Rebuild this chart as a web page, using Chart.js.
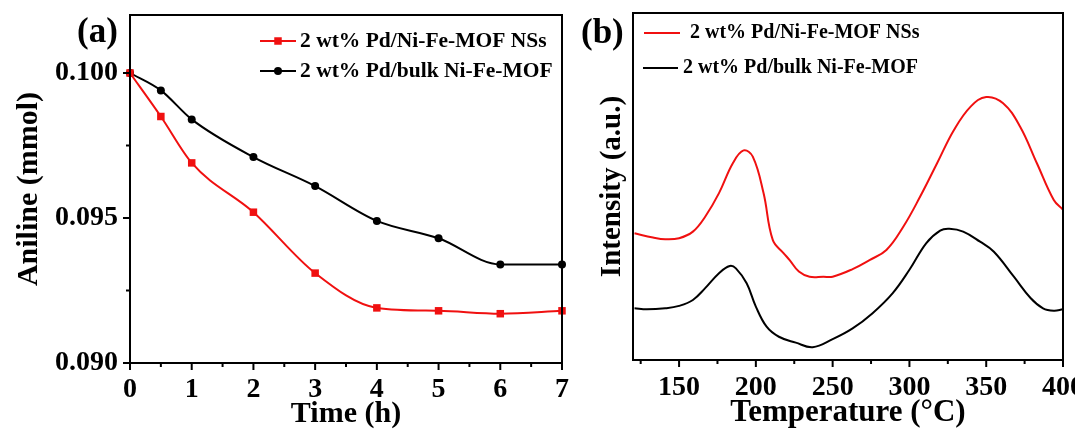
<!DOCTYPE html>
<html>
<head>
<meta charset="utf-8">
<script src="https://cdn.jsdelivr.net/npm/chart.js@4.4.1/dist/chart.umd.min.js"></script>
<style>
  body { margin: 0; background: #fff; width: 1075px; height: 436px; position: relative; overflow: hidden; }
  canvas { position: absolute; top: 0; }
  #chartA { left: 0; }
  #chartB { left: 570px; }
  .tag { position: absolute; font: bold 35px "Liberation Serif", serif; line-height: 1; color: #000; }
</style>
</head>
<body>
<canvas id="chartA" width="570" height="436"></canvas>
<canvas id="chartB" width="505" height="436"></canvas>
<div class="tag" style="left:77px; top:13px;">(a)</div>
<div class="tag" style="left:581px; top:14px;">(b)</div>
<script>
// panel (a): aniline left vs reaction time
const timeH = [0, 0.5, 1, 2, 3, 4, 5, 6, 7];
const anilineNS = [0.1000, 0.0985, 0.0969, 0.0952, 0.0931, 0.0919, 0.0918, 0.0917, 0.0918];
const anilineBulk = [0.1000, 0.0994, 0.0984, 0.0971, 0.0961, 0.0949, 0.0943, 0.0934, 0.0934];
const timeTicks = [0, 1, 2, 3, 4, 5, 6, 7];
const timeMinor = [0.5, 1.5, 2.5, 3.5, 4.5, 5.5, 6.5];
const anilineTicks = [0.090, 0.095, 0.100];
const anilineMinor = [0.0925, 0.0975];

// panel (b): intensity vs temperature (arbitrary units, 0-100)
const tempNS = [121, 133, 141, 150, 159, 167, 176, 185, 192, 198, 205, 211, 218, 222, 228, 235, 244, 250, 263, 274, 285, 296, 307, 318, 329, 340, 350, 361, 372, 383, 394, 400];
const intensityNS = [36.5, 35.3, 34.8, 35.1, 37.0, 41.3, 48.1, 56.7, 60.4, 58.6, 48.1, 34.6, 30.8, 28.8, 25.5, 24.0, 24.0, 24.0, 26.2, 28.8, 31.7, 38.4, 47.1, 56.7, 66.3, 73.1, 75.8, 74.0, 67.3, 56.7, 46.1, 43.3];
const tempBulk = [121, 129, 141, 150, 159, 167, 176, 183, 187, 194, 200, 207, 215, 226, 237, 250, 263, 276, 289, 300, 311, 320, 326, 335, 346, 355, 368, 379, 387, 394, 400];
const intensityBulk = [14.9, 14.6, 14.9, 15.6, 17.3, 20.7, 25.0, 27.1, 26.4, 22.1, 15.4, 9.6, 6.7, 5.0, 3.7, 6.0, 9.1, 13.5, 19.2, 26.0, 33.7, 37.3, 37.8, 37.0, 34.1, 31.2, 24.0, 17.8, 14.9, 14.2, 14.6];
const tempTicks = [150, 200, 250, 300, 350, 400];
const tempMinor = [125, 175, 225, 275, 325, 375];

const labelNS = "2 wt% Pd/Ni-Fe-MOF NSs";
const labelBulk = "2 wt% Pd/bulk Ni-Fe-MOF";
const RED = "#f01010";
const FAMILY = '"Liberation Serif", "Times New Roman", serif';

const tickFont = { family: FAMILY, size: 28, weight: "bold" };
const titleFont = { family: FAMILY, size: 30, weight: "bold" };

const toPoints = (xs, ys) => xs.map((x, i) => ({ x: x, y: ys[i] }));

// closed box around the plot + outward tick marks (major and minor)
const framePlugin = {
  id: "frame",
  afterDraw(chart, args, opts) {
    const { ctx, chartArea: a, scales } = chart;
    ctx.save();
    ctx.strokeStyle = "#000";
    ctx.lineWidth = 2;
    ctx.strokeRect(a.left, a.top, a.right - a.left, a.bottom - a.top);
    const mark = (scale, values, len) => {
      values.forEach((v) => {
        const p = scale.getPixelForValue(v);
        ctx.beginPath();
        if (scale.isHorizontal()) {
          ctx.moveTo(p, a.bottom);
          ctx.lineTo(p, a.bottom + len);
        } else {
          ctx.moveTo(a.left, p);
          ctx.lineTo(a.left - len, p);
        }
        ctx.stroke();
      });
    };
    ["x", "y"].forEach((id) => {
      const t = opts[id];
      if (!t) return;
      mark(scales[id], t.major, 7);
      mark(scales[id], t.minor, 4);
    });
    ctx.restore();
  },
};

// legend with a line sample (and marker) like the original figure
const legendPlugin = {
  id: "lineLegend",
  afterDraw(chart, args, opts) {
    const ctx = chart.ctx;
    ctx.save();
    ctx.font = "bold " + opts.size + "px " + FAMILY;
    ctx.textBaseline = "middle";
    chart.data.datasets.forEach((ds, i) => {
      const y = opts.rows[i];
      const x0 = opts.x[i];
      const x1 = x0 + opts.len[i];
      ctx.strokeStyle = ds.borderColor;
      ctx.lineWidth = 2;
      ctx.beginPath();
      ctx.moveTo(x0, y);
      ctx.lineTo(x1, y);
      ctx.stroke();
      if (ds.pointRadius > 0) {
        ctx.fillStyle = ds.pointBackgroundColor;
        Chart.helpers.drawPoint(ctx, { pointStyle: ds.pointStyle, radius: ds.pointRadius, borderWidth: 0, rotation: 0 }, (x0 + x1) / 2, y);
      }
      ctx.fillStyle = "#000";
      ctx.fillText(ds.label, opts.textX[i], y);
    });
    ctx.restore();
  },
};

function fixedTicks(values) {
  return (scale) => {
    scale.ticks = values.map((v) => ({ value: v }));
  };
}

// chart (a)
new Chart(document.getElementById("chartA"), {
  type: "line",
  data: {
    datasets: [
      {
        label: labelNS,
        data: toPoints(timeH, anilineNS),
        borderColor: RED,
        backgroundColor: RED,
        pointBackgroundColor: RED,
        pointBorderWidth: 0,
        pointStyle: "rect",
        pointRadius: 5.3,
        borderWidth: 2,
        cubicInterpolationMode: "monotone",
        clip: 8,
      },
      {
        label: labelBulk,
        data: toPoints(timeH, anilineBulk),
        borderColor: "#000",
        backgroundColor: "#000",
        pointBackgroundColor: "#000",
        pointBorderWidth: 0,
        pointStyle: "circle",
        pointRadius: 4,
        borderWidth: 2,
        cubicInterpolationMode: "monotone",
        clip: 8,
      },
    ],
  },
  options: {
    responsive: false,
    animation: false,
    layout: { padding: { top: 15, right: 8, left: 0, bottom: 0 } },
    plugins: {
      legend: { display: false },
      tooltip: { enabled: false },
      frame: { x: { major: timeTicks, minor: timeMinor }, y: { major: anilineTicks, minor: anilineMinor } },
      lineLegend: { x: [260, 260], len: [36, 36], rows: [41, 71], textX: [300, 300], size: 21.5 },
    },
    scales: {
      x: {
        type: "linear",
        min: 0,
        max: 7,
        afterBuildTicks: fixedTicks(timeTicks),
        afterFit: (s) => { s.height = 73; s.paddingLeft = 0; s.paddingRight = 0; },
        grid: { display: false, drawTicks: false },
        border: { display: false },
        ticks: { font: tickFont, color: "#000", padding: 10, maxRotation: 0 },
        title: { display: true, text: "Time (h)", font: titleFont, color: "#000", padding: { top: 0, bottom: 4 } },
      },
      y: {
        type: "linear",
        min: 0.090,
        max: 0.102,
        afterBuildTicks: fixedTicks(anilineTicks),
        afterFit: (s) => { s.width = 130; s.paddingTop = 0; s.paddingBottom = 0; },
        grid: { display: false, drawTicks: false },
        border: { display: false },
        ticks: { font: tickFont, color: "#000", padding: 12, callback: (v) => v.toFixed(3) },
        title: { display: true, text: "Aniline (mmol)", font: { family: FAMILY, size: 30, weight: "bold" }, color: "#000", padding: { top: 11, bottom: 0 } },
      },
    },
  },
  plugins: [framePlugin, legendPlugin],
});

// chart (b)
new Chart(document.getElementById("chartB"), {
  type: "line",
  data: {
    datasets: [
      {
        label: labelNS,
        data: toPoints(tempNS, intensityNS),
        borderColor: RED,
        borderWidth: 2,
        pointRadius: 0,
        tension: 0.4,
      },
      {
        label: labelBulk,
        data: toPoints(tempBulk, intensityBulk),
        borderColor: "#000",
        borderWidth: 2,
        pointRadius: 0,
        tension: 0.4,
      },
    ],
  },
  options: {
    responsive: false,
    animation: false,
    layout: { padding: { top: 13, right: 12, left: 0, bottom: 0 } },
    plugins: {
      legend: { display: false },
      tooltip: { enabled: false },
      frame: { x: { major: tempTicks, minor: tempMinor } },
      lineLegend: { x: [74, 73], len: [36, 35], rows: [33, 68], textX: [120, 113], size: 20 },
    },
    scales: {
      x: {
        type: "linear",
        min: 120,
        max: 400,
        afterBuildTicks: fixedTicks(tempTicks),
        afterFit: (s) => { s.height = 76; s.paddingLeft = 0; s.paddingRight = 0; },
        grid: { display: false, drawTicks: false },
        border: { display: false },
        ticks: { font: tickFont, color: "#000", padding: 11, maxRotation: 0 },
        title: { display: true, text: "Temperature (°C)", font: { family: FAMILY, size: 31, weight: "bold" }, color: "#000", padding: { top: 0, bottom: 4 } },
      },
      y: {
        type: "linear",
        min: 0,
        max: 100,
        afterFit: (s) => { s.width = 63; s.paddingTop = 0; s.paddingBottom = 0; },
        grid: { display: false, drawTicks: false },
        border: { display: false },
        ticks: { display: false },
        title: { display: true, text: "Intensity (a.u.)", font: { family: FAMILY, size: 29, weight: "bold" }, color: "#000", padding: { top: 25, bottom: 0 } },
      },
    },
  },
  plugins: [framePlugin, legendPlugin],
});
</script>
</body>
</html>
